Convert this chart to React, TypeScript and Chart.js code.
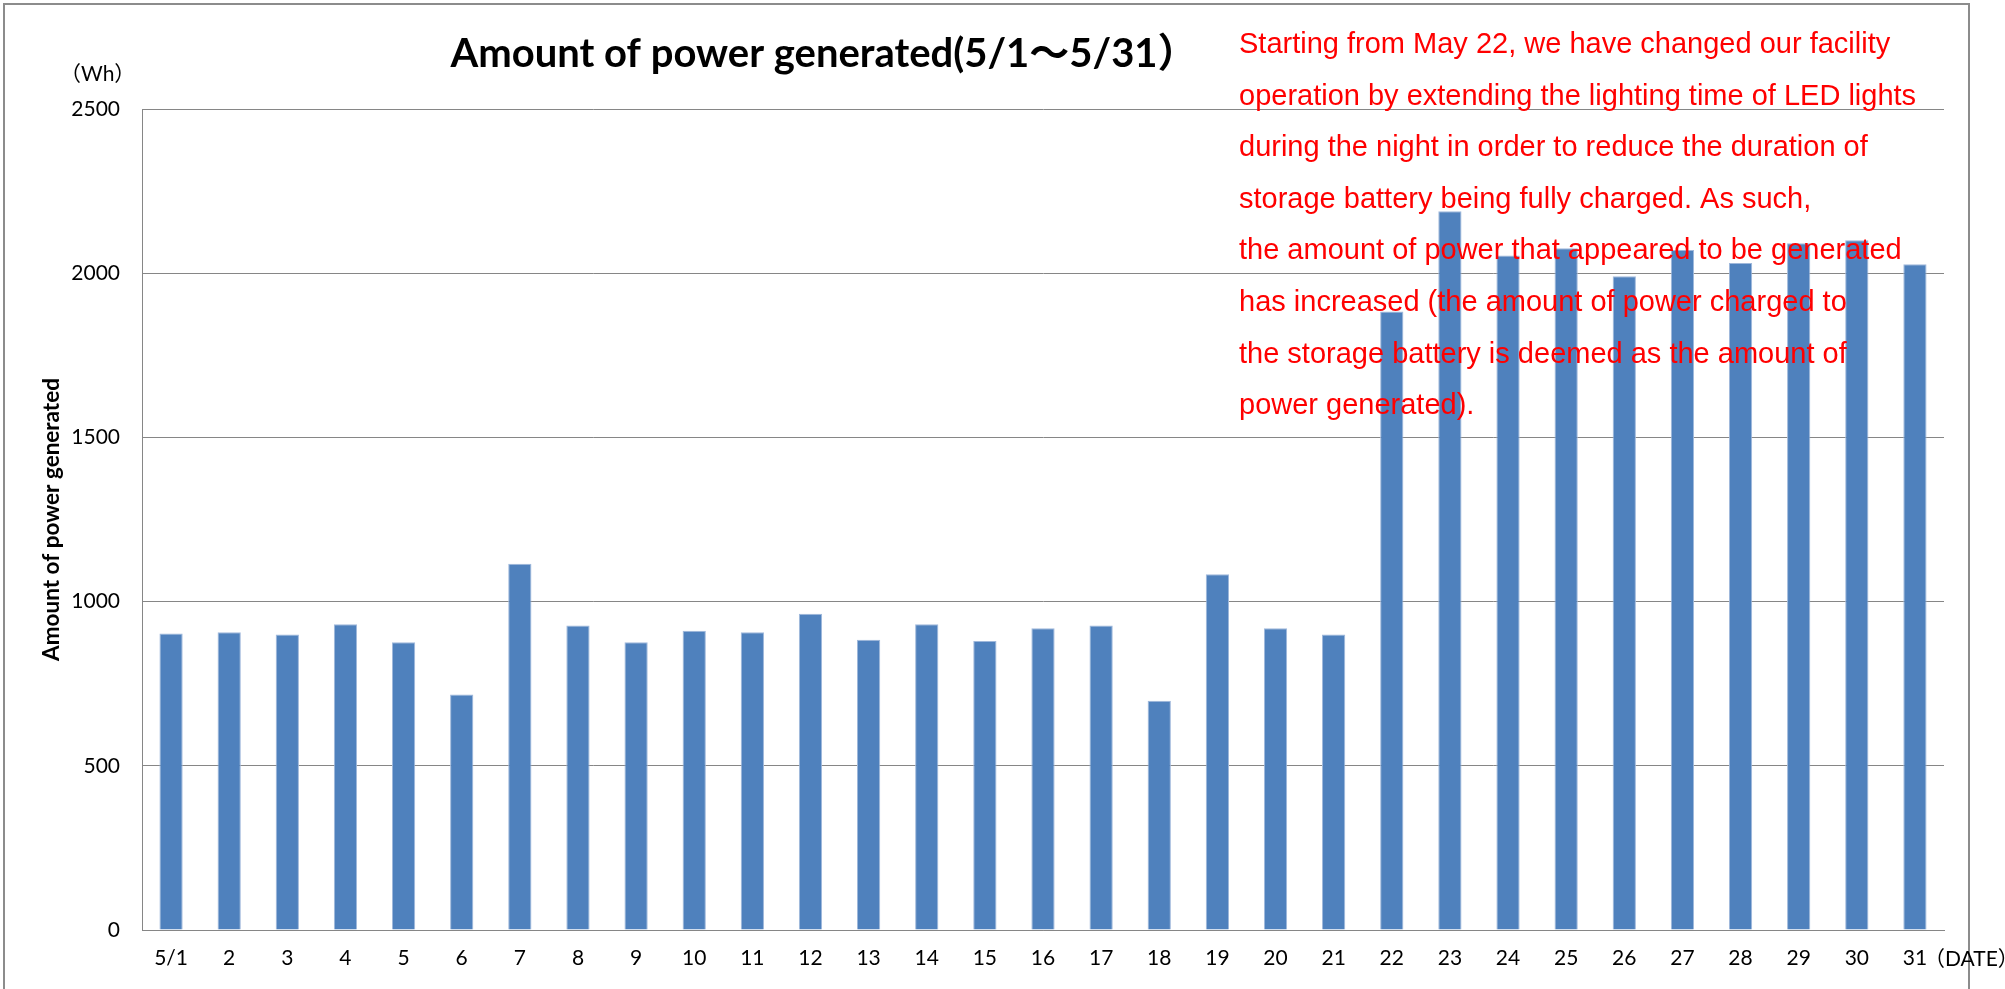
import { useEffect, useRef } from "react";
import { Chart, registerables } from "chart.js";

Chart.register(...registerables);

const dates = ["5/1", "2", "3", "4", "5", "6", "7", "8", "9", "10", "11", "12", "13", "14", "15", "16", "17", "18", "19", "20", "21", "22", "23", "24", "25", "26", "27", "28", "29", "30", "31"];
const power = [903, 907, 900, 931, 876, 717, 1115, 927, 876, 911, 907, 963, 884, 931, 880, 919, 927, 698, 1083, 919, 900, 1883, 2189, 2054, 2076, 1991, 2071, 2031, 2091, 2100, 2027];
const yMin = 0;
const yMax = 2500;
const yStep = 500;

const chartTitle = "Amount of power generated(5/1～5/31）";
const yAxisTitle = "Amount of power generated";
const unitLabel = "（Wh）";
const dateLabel = "（DATE）";
const noteLines = [
  "Starting from May 22, we have changed our facility",
  "operation by extending the lighting time of LED lights",
  "during the night in order to reduce the duration of",
  "storage battery being fully charged. As such,",
  "the amount of power that appeared to be generated",
  "has increased (the amount of power charged to",
  "the storage battery is deemed as the amount of",
  "power generated).",
];

const BASE_FONT = "Lato, 'Noto Sans CJK JP', sans-serif";

const overlay = {
  id: "overlay",
  afterDraw(chart: any) {
    const ctx = chart.ctx as CanvasRenderingContext2D;
    ctx.save();
    // outer frame
    ctx.strokeStyle = "#8c8c8c";
    ctx.lineWidth = 2;
    ctx.strokeRect(4, 4, 1965, 1100);

    // title
    ctx.fillStyle = "#000";
    ctx.font = `bold 40px ${BASE_FONT}`;
    ctx.textAlign = "center";
    ctx.textBaseline = "alphabetic";
    ctx.fillText(chartTitle, 824, 67);

    // unit
    ctx.font = `21px ${BASE_FONT}`;
    ctx.textAlign = "left";
    ctx.textBaseline = "middle";
    ctx.fillText(unitLabel, 60, 74);

    // date label
    ctx.fillText(dateLabel, 1924, 959);

    // notes
    ctx.fillStyle = "#FF0000";
    ctx.font = `29px 'Liberation Sans', Arial, sans-serif`;
    ctx.textBaseline = "alphabetic";
    noteLines.forEach((line, i) => {
      ctx.fillText(line, 1239, 53 + i * 51.6);
    });
    ctx.restore();
  },
};

export default function App() {
  const ref = useRef<HTMLCanvasElement | null>(null);

  useEffect(() => {
    document.body.style.margin = "0";
    const canvas = ref.current;
    if (!canvas) return;
    const chart = new Chart(canvas, {
      type: "bar",
      data: {
        labels: dates,
        datasets: [
          {
            label: yAxisTitle,
            data: power,
            backgroundColor: "#4F81BD",
            borderColor: "#9FB8DB",
            borderWidth: 1,
            borderSkipped: "bottom",
            categoryPercentage: 1,
            barPercentage: 0.4,
          },
        ],
      },
      options: {
        responsive: false,
        animation: false,
        devicePixelRatio: 1,
        layout: { padding: { left: 0, right: 61, top: 109, bottom: 0 } },
        plugins: {
          legend: { display: false },
          title: { display: false },
          tooltip: { enabled: false },
        },
        scales: {
          x: {
            grid: { display: false, drawTicks: false },
            border: { display: true, color: "#868686", width: 1 },
            ticks: {
              color: "#000",
              font: { family: BASE_FONT, size: 21 },
              padding: 16,
              autoSkip: false,
              maxRotation: 0,
              minRotation: 0,
            },
            afterFit: (s: any) => {
              s.height = 59;
            },
          },
          y: {
            min: yMin,
            max: yMax,
            grid: { color: "#868686", lineWidth: 1, drawTicks: false },
            border: { display: true, color: "#868686", width: 1 },
            ticks: {
              stepSize: yStep,
              color: "#000",
              font: { family: BASE_FONT, size: 21 },
              padding: 22,
              callback: (v: any) => String(v),
            },
            title: {
              display: true,
              text: yAxisTitle,
              color: "#000",
              font: { family: BASE_FONT, size: 22.5, weight: "bold" },
              padding: { top: 38, bottom: 0 },
            },
            afterFit: (s: any) => {
              s.width = 142;
            },
          },
        },
      },
      plugins: [overlay],
    });
    return () => chart.destroy();
  }, []);

  return (
    <div style={{ width: 2005, height: 989, overflow: "hidden" }}>
      <canvas ref={ref} width={2005} height={989} style={{ display: "block" }} />
    </div>
  );
}
